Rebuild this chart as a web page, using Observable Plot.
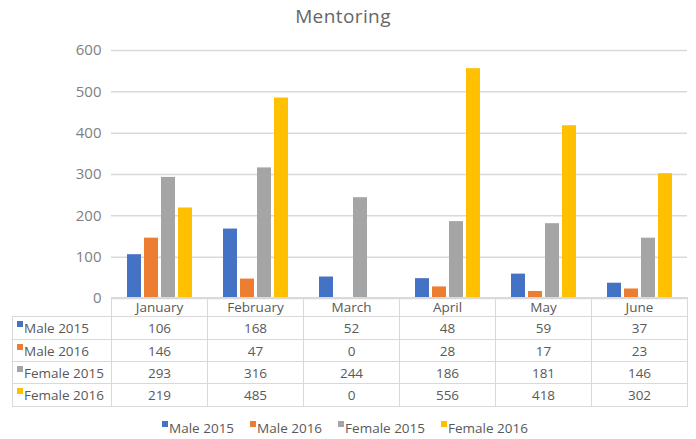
<!DOCTYPE html>
<html>
<head>
<meta charset="utf-8">
<script src="https://cdn.jsdelivr.net/npm/d3@7"></script>
<script src="https://cdn.jsdelivr.net/npm/@observablehq/plot@0.6"></script>
<style>
  html, body { margin: 0; padding: 0; background: #fff; }
  #wrap { position: relative; width: 696px; height: 439px; font-family: "Open Sans", sans-serif; color: #595959; overflow: hidden; }
  #title { position: absolute; left: 0; top: 3px; width: 686px; text-align: center; font-size: 19px; color: #666; letter-spacing: 0.4px; }
  #chart { position: absolute; left: 0; top: 40px; }
  #tbl { position: absolute; left: 12px; top: 297px; border-collapse: collapse; table-layout: fixed; font-size: 13.5px; color: #595959; }
  #tbl td { border: 1.5px solid #d9d9d9; padding: 0; text-align: center; white-space: nowrap; }
  #tbl td.lab { text-align: left; padding-left: 4px; }
  #tbl td.blank { border: none; border-right: 1.5px solid #d9d9d9; }
  .sw { display: inline-block; width: 6px; height: 6px; margin-right: 1px; vertical-align: 6px; }
  #legend { position: absolute; left: -3px; top: 419px; width: 696px; text-align: center; font-size: 13.5px; color: #595959; }
  #legend span.item { margin: 0 8px; }
</style>
</head>
<body>
<div id="wrap">
  <div id="title">Mentoring</div>
  <div id="chart"></div>
  <table id="tbl"></table>
  <div id="legend"></div>
</div>
<script>
const months = ["January", "February", "March", "April", "May", "June"];
const series = ["Male 2015", "Male 2016", "Female 2015", "Female 2016"];
const male2015 = [106, 168, 52, 48, 59, 37];
const male2016 = [146, 47, 0, 28, 17, 23];
const female2015 = [293, 316, 244, 186, 181, 146];
const female2016 = [219, 485, 0, 556, 418, 302];
const colors = ["#4472C4", "#ED7D31", "#A5A5A5", "#FFC000"];
const yTicks = [0, 100, 200, 300, 400, 500, 600];

const seriesValues = [male2015, male2016, female2015, female2016];
const data = [];
series.forEach((s, si) => months.forEach((m, mi) => data.push({series: s, month: m, value: seriesValues[si][mi]})));

const chart = Plot.plot({
  width: 696,
  height: 272,
  marginLeft: 111,
  marginRight: 9,
  marginTop: 10,
  marginBottom: 14,
  style: {fontFamily: "'Open Sans', sans-serif", fontSize: "15px", color: "#7f7f7f", background: "transparent", overflow: "visible"},
  fx: {domain: months, padding: 0, axis: null},
  x: {domain: series, paddingInner: 0.19, paddingOuter: 0.865, axis: null},
  y: {domain: [0, 600], ticks: yTicks, tickSize: 0, tickPadding: 10, label: null},
  color: {domain: series, range: colors},
  marks: [
    Plot.ruleY(yTicks, {stroke: "#d9d9d9", strokeWidth: 1.5}),
    Plot.barY(data, {fx: "month", x: "series", y: "value", fill: "series"})
  ]
});
document.getElementById("chart").appendChild(chart);

// data table
const tbl = d3.select("#tbl");
const cg = tbl.append("colgroup");
cg.append("col").style("width", "99px");
months.forEach(() => cg.append("col").style("width", "96px"));
const head = tbl.append("tr").style("height", "19px");
head.append("td").attr("class", "blank");
months.forEach(m => head.append("td").text(m));
const rowHeights = [23, 22, 22, 23];
series.forEach((s, si) => {
  const tr = tbl.append("tr").style("height", rowHeights[si] + "px");
  const lab = tr.append("td").attr("class", "lab");
  lab.append("span").attr("class", "sw").style("background", colors[si]);
  lab.append("span").text(s);
  seriesValues[si].forEach(v => tr.append("td").text(v));
});

// legend
const lg = d3.select("#legend");
series.forEach((s, si) => {
  const it = lg.append("span").attr("class", "item");
  it.append("span").attr("class", "sw").style("background", colors[si]);
  it.append("span").text(s);
});
</script>
</body>
</html>
